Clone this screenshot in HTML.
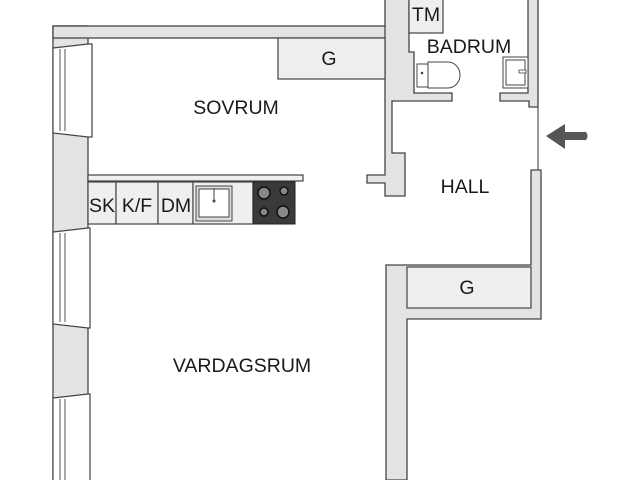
<!DOCTYPE html>
<html><head><style>body{margin:0;background:#fff}svg{display:block}</style></head><body>
<svg width="640" height="480" viewBox="0 0 640 480" xmlns="http://www.w3.org/2000/svg" font-family="Liberation Sans, sans-serif">
<rect width="640" height="480" fill="#fff"/>
<g fill="#e3e3e3" stroke="#444" stroke-width="1.3">
<rect x="53" y="26" width="35" height="460"/>
<rect x="53" y="26" width="340" height="12"/>
<path d="M385 -2 H409 V52 H414 V93 H452 V101 H392 V153 H405 V196 H385 V183 H367 V175 H385 Z"/>
<path d="M528 -2 H538 V107 H529 V101 H500 V93 H528 Z"/>
<path d="M531 170 H541 V319 H407 V480 H386 V265 H531 Z"/>
</g>
<line x1="538" y1="107" x2="538" y2="170" stroke="#555" stroke-width="1.2"/>
<g fill="#fff" stroke="#444" stroke-width="1.2">
<path d="M53 48 L88 44 L92 44 L92 137 L88 137 L53 133 Z"/>
<path d="M53 232 L88 228 L90 228 L90 328 L88 328 L53 324 Z"/>
<path d="M53 398 L88 394 L90 394 L90 495 L53 495 Z"/>
</g>
<g stroke="#555" stroke-width="1" fill="none">
<line x1="60" y1="49" x2="60" y2="131"/><line x1="65" y1="49" x2="65" y2="131"/>
<line x1="60" y1="233" x2="60" y2="322"/><line x1="65" y1="233" x2="65" y2="322"/>
<line x1="60" y1="399" x2="60" y2="480"/><line x1="65" y1="399" x2="65" y2="480"/>
</g>
<g fill="#efefef" stroke="#444" stroke-width="1.2">
<rect x="278" y="38" width="107" height="41"/>
<rect x="407" y="267" width="124" height="41"/>
<rect x="409" y="-2" width="34" height="35"/>
<rect x="88" y="175" width="215" height="6"/>
<rect x="88" y="182" width="28" height="42"/>
<rect x="116" y="182" width="42" height="42"/>
<rect x="158" y="182" width="35" height="42"/>
<rect x="193" y="182" width="60" height="42"/>
</g>
<rect x="196" y="186" width="36" height="35" fill="#ddd" stroke="#444"/>
<rect x="199" y="189" width="30" height="28" fill="#fff" stroke="#444"/>
<line x1="214" y1="188" x2="214" y2="200" stroke="#444"/><circle cx="214" cy="201" r="1.5" fill="#444"/>
<rect x="253" y="182" width="42" height="42" fill="#3a3a3a" stroke="#222"/>
<g fill="#888" stroke="#111" stroke-width="1.5">
<circle cx="264" cy="193" r="6"/><circle cx="284" cy="191" r="4"/><circle cx="264" cy="212" r="4"/><circle cx="283" cy="212" r="6"/>
</g>
<rect x="417" y="64" width="11" height="23" fill="#fff" stroke="#444"/>
<path d="M428 62 H448 A12 13 0 0 1 448 88 H428 Z" fill="#fff" stroke="#444"/>
<circle cx="422" cy="73" r="1.3" fill="#444"/>
<rect x="503" y="57" width="25" height="31" fill="#fff" stroke="#444"/>
<rect x="506" y="60" width="19" height="25" fill="#fff" stroke="#444"/>
<rect x="519" y="70" width="7" height="3" fill="#fff" stroke="#444" stroke-width="0.8"/>
<path d="M546 136 L565 124 L565 132 L586 132 Q589 136 586 140 L565 140 L565 149 Z" fill="#555"/>
<g fill="#1a1a1a" font-size="19.5" text-anchor="middle">
<text x="236" y="114">SOVRUM</text>
<text x="329" y="65">G</text>
<text x="467" y="294">G</text>
<text x="426" y="21">TM</text>
<text x="469" y="53">BADRUM</text>
<text x="465" y="193">HALL</text>
<text x="242" y="372">VARDAGSRUM</text>
<text x="102" y="212">SK</text>
<text x="137" y="212">K/F</text>
<text x="176" y="212">DM</text>
</g>
</svg>
</body></html>
